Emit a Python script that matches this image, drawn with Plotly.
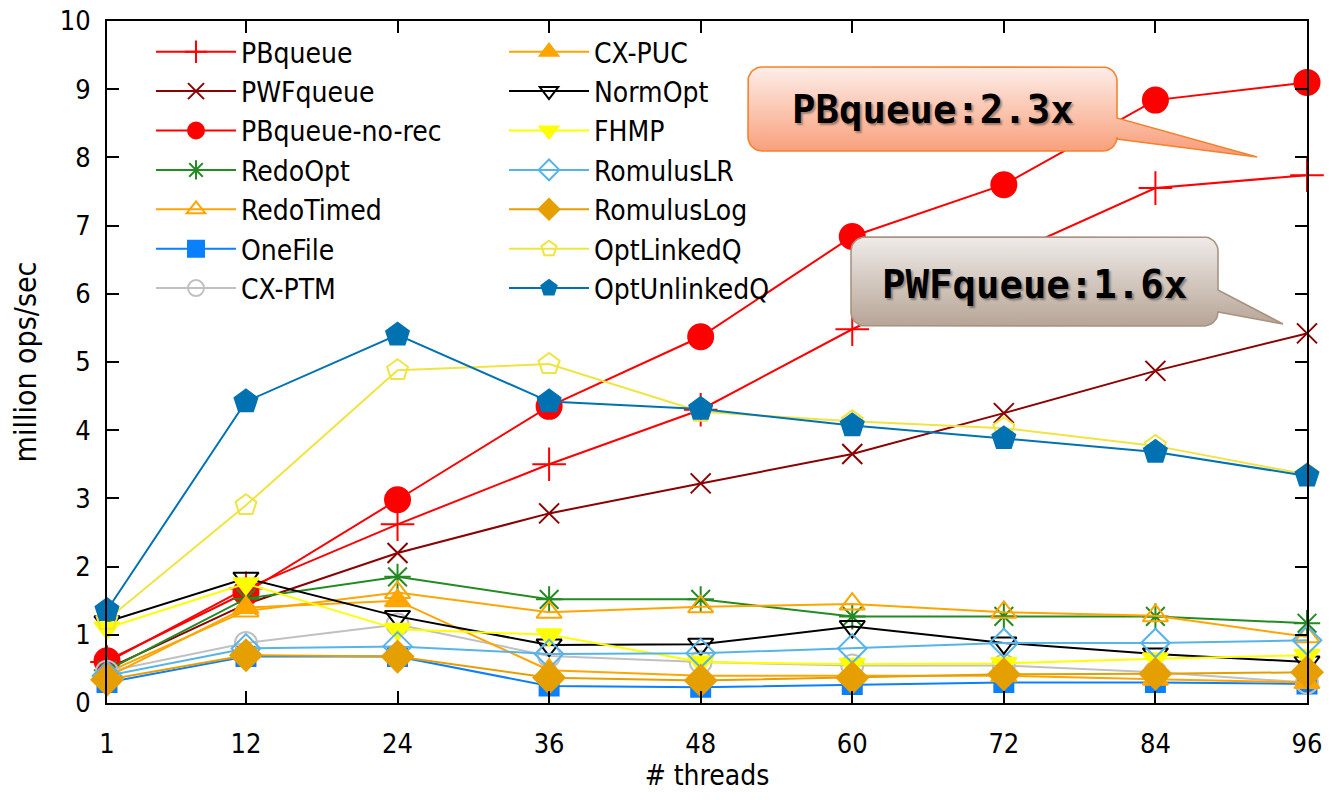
import numpy as np
import plotly.graph_objects as go

threads = [1, 12, 24, 36, 48, 60, 72, 84, 96]
y_ticks = [0, 1, 2, 3, 4, 5, 6, 7, 8, 9, 10]

pbqueue        = [0.60, 1.68, 2.62, 3.50, 4.30, 5.48, 6.55, 7.55, 7.74]
pwfqueue       = [0.50, 1.45, 2.20, 2.78, 3.22, 3.65, 4.25, 4.87, 5.42]
pbqueue_norec  = [0.62, 1.62, 2.98, 4.35, 5.37, 6.84, 7.60, 8.84, 9.10]
redoopt        = [0.48, 1.53, 1.85, 1.52, 1.52, 1.27, 1.27, 1.27, 1.17]
redotimed      = [0.45, 1.35, 1.62, 1.33, 1.41, 1.45, 1.33, 1.28, 0.97]
onefile        = [0.30, 0.68, 0.68, 0.25, 0.23, 0.27, 0.30, 0.30, 0.28]
cxptm          = [0.46, 0.88, 1.15, 0.69, 0.60, 0.55, 0.55, 0.45, 0.30]
cxpuc          = [0.38, 1.40, 1.50, 0.48, 0.40, 0.40, 0.40, 0.35, 0.30]
normopt        = [1.19, 1.83, 1.27, 0.85, 0.86, 1.12, 0.88, 0.72, 0.60]
fhmp           = [1.10, 1.75, 1.08, 1.00, 0.60, 0.57, 0.58, 0.65, 0.70]
romuluslr      = [0.40, 0.80, 0.83, 0.72, 0.73, 0.80, 0.88, 0.88, 0.92]
romuluslog     = [0.34, 0.70, 0.68, 0.37, 0.33, 0.37, 0.42, 0.43, 0.45]
optlinkedq     = [1.22, 2.90, 4.88, 4.97, 4.27, 4.13, 4.03, 3.77, 3.35]
optunlinkedq   = [1.36, 4.42, 5.40, 4.42, 4.31, 4.07, 3.88, 3.68, 3.33]

series = [
    ("PBqueue", pbqueue, "#ff0000", "cross-thin-open", 24, "legend"),
    ("PWFqueue", pwfqueue, "#8b0000", "x-thin-open", 20, "legend"),
    ("PBqueue-no-rec", pbqueue_norec, "#ff0000", "circle", 25, "legend"),
    ("RedoOpt", redoopt, "#228b22", "asterisk-open", 22, "legend"),
    ("RedoTimed", redotimed, "#ffa500", "triangle-up-open", 22, "legend"),
    ("OneFile", onefile, "#0a80ff", "square", 19, "legend"),
    ("CX-PTM", cxptm, "#c0c0c0", "circle-open", 22, "legend"),
    ("CX-PUC", cxpuc, "#ffa500", "triangle-up", 22, "legend2"),
    ("NormOpt", normopt, "#000000", "triangle-down-open", 22, "legend2"),
    ("FHMP", fhmp, "#ffff00", "triangle-down", 22, "legend2"),
    ("RomulusLR", romuluslr, "#56b4e9", "diamond-open", 22, "legend2"),
    ("RomulusLog", romuluslog, "#e69f00", "diamond", 24, "legend2"),
    ("OptLinkedQ", optlinkedq, "#f0e442", "pentagon-open", 22, "legend2"),
    ("OptUnlinkedQ", optunlinkedq, "#0072b2", "pentagon", 24, "legend2"),
]

FONT = "DejaVu Sans Condensed, Noto Sans, DejaVu Sans, sans-serif"
# window-pixel geometry of the plot area (page body adds an 8px offset)
OFF = 8
WIN_H = 800
PX0, PX1, PY0, PY1 = 107, 1307, 21, 703
W, H = 1316, 784
L, T = PX0 - OFF, PY0 - OFF
R = W - (PX1 - OFF)
B = H - (PY1 - OFF)

fig = go.Figure()
for name, vals, col, sym, size, leg in series:
    fig.add_trace(go.Scatter(
        x=threads, y=vals, name=name, mode="lines+markers",
        line=dict(color=col, width=2),
        marker=dict(symbol=sym, size=size, color=col,
                    line=dict(color=col, width=2)),
        cliponaxis=False, legend=leg,
    ))


def py2(py):
    return WIN_H - py


def callout(x0, y0, x1, y1, r, bt, bb, tip, n=10):
    pts = [(x0 + r, y0), (x1 - r, y0)]
    for a in np.linspace(-np.pi / 2, 0, n):
        pts.append((x1 - r + r * np.cos(a), y0 + r + r * np.sin(a)))
    pts += [(x1, bt), tip, (x1, bb), (x1, y1 - r)]
    for a in np.linspace(0, np.pi / 2, n):
        pts.append((x1 - r + r * np.cos(a), y1 - r + r * np.sin(a)))
    pts.append((x0 + r, y1))
    for a in np.linspace(np.pi / 2, np.pi, n):
        pts.append((x0 + r + r * np.cos(a), y1 - r + r * np.sin(a)))
    pts.append((x0, y0 + r))
    for a in np.linspace(np.pi, 1.5 * np.pi, n):
        pts.append((x0 + r + r * np.cos(a), y0 + r + r * np.sin(a)))
    pts.append(pts[0])
    xs = [p[0] for p in pts]
    ys = [py2(p[1]) for p in pts]
    return xs, ys


callouts = [
    dict(box=(748, 67, 1117, 151), bt=118, bb=139, tip=(1257, 157),
         top="#fdeee9", bot="#f8a07c", edge="#f5822e", text="PBqueue:2.3x", cy=109),
    dict(box=(851, 237, 1218, 326), bt=290, bb=312, tip=(1283, 324),
         top="#efebe9", bot="#b7a596", edge="#a89383", text="PWFqueue:1.6x", cy=284),
]
for c in callouts:
    x0, y0, x1, y1 = c["box"]
    xs, ys = callout(x0, y0, x1, y1, 14, c["bt"], c["bb"], c["tip"])
    fig.add_trace(go.Scatter(
        x=xs, y=ys, mode="lines", fill="toself",
        line=dict(color=c["edge"], width=1.6),
        fillgradient=dict(type="vertical", start=py2(y1), stop=py2(y0),
                          colorscale=[[0, c["bot"]], [1, c["top"]]]),
        xaxis="x2", yaxis="y2", showlegend=False, hoverinfo="skip",
    ))
    fig.add_annotation(
        x=(x0 + x1) / 2, y=py2(c["cy"]), xref="x2", yref="y2",
        text="<b>" + c["text"] + "</b>", showarrow=False,
        font=dict(family="DejaVu Sans Mono, monospace", size=39, color="#000000",
                  shadow="2px 2px 2px rgba(0,0,0,0.35)"),
    )

axis_common = dict(
    showline=True, linecolor="black", linewidth=2, mirror="ticks",
    ticks="inside", ticklen=12, tickwidth=2, tickcolor="black",
    showgrid=False, zeroline=False, ticklabeloverflow="allow",
    tickfont=dict(family=FONT, size=27, color="black"),
)

PW, PH = PX1 - PX0, PY1 - PY0


def lx(px):
    return (px - PX0) / PW


def ly(py):
    return (PY1 - py) / PH


fig.update_layout(
    width=W, height=H,
    margin=dict(l=L, r=R, t=T, b=B, autoexpand=False),
    paper_bgcolor="white", plot_bgcolor="white",
    xaxis=dict(range=[1, 96], tickvals=threads, ticklabelstandoff=16,
               title=dict(text="# threads", standoff=16,
                          font=dict(family=FONT, size=28, color="black")),
               automargin=False, **axis_common),
    yaxis=dict(range=[0, 10], tickvals=y_ticks, ticklabelstandoff=9,
               title=dict(text="million ops/sec", standoff=20,
                          font=dict(family=FONT, size=30, color="black")),
               automargin=False, **axis_common),
    xaxis2=dict(overlaying="x", range=[PX0, PX1], visible=False, fixedrange=True),
    yaxis2=dict(overlaying="y", range=[py2(PY1), py2(PY0)], visible=False,
                fixedrange=True),
    legend=dict(x=lx(151), y=ly(27), xanchor="left", yanchor="top",
                bgcolor="rgba(0,0,0,0)", itemwidth=80, tracegroupgap=0,
                font=dict(family=FONT, size=28, color="black")),
    legend2=dict(x=lx(504), y=ly(27), xanchor="left", yanchor="top",
                 bgcolor="rgba(0,0,0,0)", itemwidth=80, tracegroupgap=0,
                 font=dict(family=FONT, size=28, color="black")),
    showlegend=True,
)

fig.write_html("out.html")
